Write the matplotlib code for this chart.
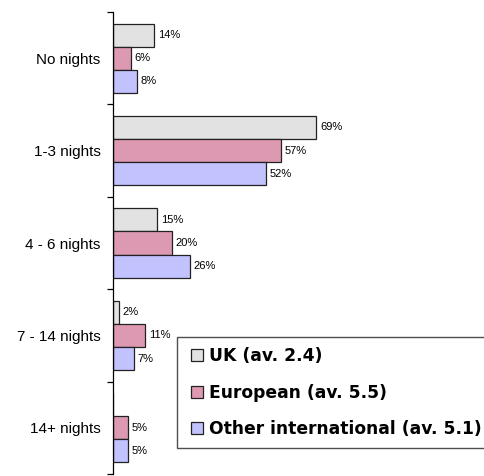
import matplotlib.pyplot as plt
from matplotlib.lines import Line2D
import numpy as np

# nights stayed, share of visitors by origin
categories = ["No nights", "1-3 nights", "4 - 6 nights", "7 - 14 nights", "14+ nights"]
series_names = ["UK (av. 2.4)", "European (av. 5.5)", "Other international (av. 5.1)"]
uk = [14, 69, 15, 2, 0]
european = [6, 57, 20, 11, 5]
other_intl = [8, 52, 26, 7, 5]
colors = ["#E2E2E2", "#DD99B2", "#C2C2FF"]


def main():
    fig = plt.figure(figsize=(4.84, 4.76), dpi=100)
    ax = fig.add_axes([113 / 484, 2 / 476, 1 - 113 / 484, 462 / 476])

    y = np.arange(len(categories))
    h = 0.25
    for k, (vals, col) in enumerate(zip([uk, european, other_intl], colors)):
        pos = y + (k - 1) * h
        bars = ax.barh(pos, vals, height=h, color=col, edgecolor="#222222",
                       linewidth=0.9)
        for b, v in zip(bars, vals):
            if v == 0:
                continue
            ax.annotate(f"{v}%", (b.get_width(), b.get_y() + b.get_height() / 2),
                        xytext=(2.5, 0), textcoords="offset points",
                        va="center", ha="left", fontsize=8,
                        family="Liberation Sans")

    ax.set_ylim(len(categories) - 0.5, -0.5)
    ax.set_xlim(0, 125.8)
    ax.set_yticks(y)
    ax.set_yticklabels(categories, fontsize=11, family="Liberation Sans")
    ax.set_yticks(np.arange(len(categories) + 1) - 0.5, minor=True)
    ax.tick_params(axis="y", which="major", length=0, pad=9)
    ax.tick_params(axis="y", which="minor", length=4, width=0.9, direction="out")
    ax.set_xticks([])
    for s in ["top", "right", "bottom"]:
        ax.spines[s].set_visible(False)
    ax.spines["left"].set_linewidth(0.9)

    handles = [Line2D([], [], linestyle="none", marker="s", markersize=8.5,
                      markerfacecolor=c, markeredgecolor="#222222",
                      markeredgewidth=0.9) for c in colors]
    leg = ax.legend(handles, series_names, loc="upper left",
                    bbox_to_anchor=(177 / 484, 1 - 337 / 476),
                    bbox_transform=fig.transFigure, frameon=True, fancybox=False,
                    prop={"family": "DejaVu Sans", "weight": "bold", "size": 12.3},
                    handlelength=1.15, handletextpad=0.1,
                    labelspacing=1.07, borderpad=0.6, borderaxespad=0)
    leg.get_frame().set_edgecolor("#222222")
    leg.get_frame().set_linewidth(1.0)

    fig.savefig("out.png", dpi=100)


if __name__ == "__main__":
    main()
